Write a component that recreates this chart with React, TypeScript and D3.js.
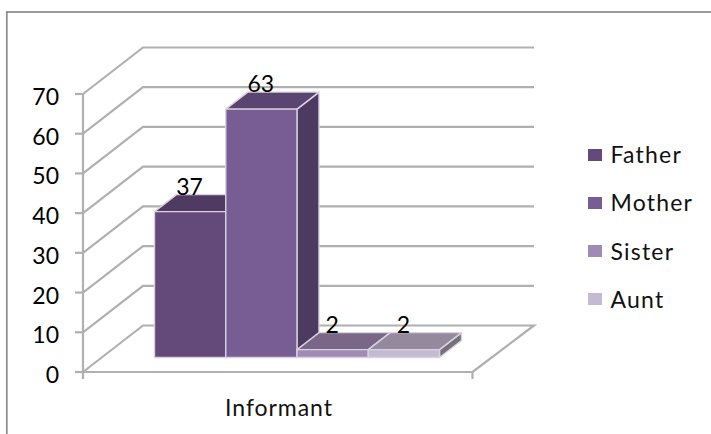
import React from "react";
import * as d3 from "d3";

const categories = ["Father", "Mother", "Sister", "Aunt"];
const values = [37, 63, 2, 2];
const frontColors = ["#634a7b", "#785d95", "#a08bb4", "#c4bad2"];
const topColors = ["#4f3b62", "#5a4570", "#7a6787", "#958a9d"];
const sideColors = ["#4a3860", "#4c3a60", "#6c5a80", "#75707c"];
const yTicks = [0, 10, 20, 30, 40, 50, 60, 70];
const axisLabel = "Informant";

const W = 711, H = 434;
const FONT = "Lato, 'Open Sans', sans-serif";
const FS = 23;

export default function App() {
  const wallDx = 60, wallDy = -46.5;
  const x0 = 83, x1 = 472.5;
  const y = d3.scaleLinear().domain([0, 70]).range([372, 94]);
  const barH = d3.scaleLinear().domain([0, 70]).range([0, 276]);
  const band = d3.scaleBand().domain(categories).range([154.5, 439.5]).paddingInner(0);
  const barBase = 357.5, barDx = 22, barDy = -17;
  const line = d3.line();
  const grid = "#b0b0b0";

  return (
    <svg
      width={W}
      height={H}
      viewBox={`0 0 ${W} ${H}`}
      style={{ position: "absolute", left: 0, top: 0, background: "#fff" }}
    >
      <defs>
        <filter id="soft" x="-5%" y="-5%" width="110%" height="110%">
          <feGaussianBlur stdDeviation="0.5" />
        </filter>
      </defs>
      <rect x={6.8} y={12} width={W + 10} height={H + 10} fill="none" stroke="#8a8a8a" strokeWidth={1.7} />

      <g stroke={grid} strokeWidth={2.2} fill="none" filter="url(#soft)">
        {yTicks.map((t) => (
          <path
            key={t}
            d={line([
              [x0, y(t)],
              [x0 + wallDx, y(t) + wallDy],
              [x1 + wallDx + 1.5, y(t) + wallDy],
              ...(t === 0 ? ([[x1, y(0)]] as [number, number][]) : []),
            ]) as string}
          />
        ))}
        <path d={line([[x0, y(70)], [x0, y(0)]]) as string} />
        <path d={line([[x0, y(0)], [x1, y(0)]]) as string} />
        {yTicks.map((t) => (
          <path key={t} d={line([[x0 - 8, y(t)], [x0, y(t)]]) as string} />
        ))}
        <path d={line([[x0, y(0)], [x0, y(0) + 7]]) as string} />
        <path d={line([[x1, y(0)], [x1, y(0) + 7]]) as string} />
      </g>

      {yTicks.map((t) => (
        <text key={t} x={59} y={y(t) + 11} fontFamily={FONT} fontSize={FS} fill="#000" textAnchor="end">
          {t}
        </text>
      ))}

      {categories.map((c, i) => {
        const bx = band(c) as number;
        const w = band.bandwidth();
        const top = barBase - barH(values[i]);
        const pts = (a: [number, number][]) => line(a) + "Z";
        return (
          <g key={c} stroke="#d9d2e0" strokeWidth={1.4} strokeLinejoin="round">
            <path
              d={pts([[bx + w, top], [bx + w + barDx, top + barDy], [bx + w + barDx, barBase + barDy], [bx + w, barBase]])}
              fill={sideColors[i]}
            />
            <path
              d={pts([[bx, top], [bx + barDx, top + barDy], [bx + w + barDx, top + barDy], [bx + w, top]])}
              fill={topColors[i]}
            />
            <rect x={bx} y={top} width={w} height={barBase - top} fill={frontColors[i]} />
          </g>
        );
      })}

      {categories.map((c, i) => {
        const bx = band(c) as number;
        const w = band.bandwidth();
        const top = barBase - barH(values[i]);
        return (
          <text
            key={c}
            x={bx + w / 2 - 0.5}
            y={top + barDy}
            fontFamily={FONT}
            fontSize={FS}
            fill="#000"
            textAnchor="middle"
          >
            {values[i]}
          </text>
        );
      })}

      <text x={279} y={415.5} fontFamily={FONT} fontSize={FS} letterSpacing={0.95} fill="#111" textAnchor="middle">
        {axisLabel}
      </text>

      {categories.map((c, i) => (
        <g key={c}>
          <rect x={588} y={149 + i * 48} width={14} height={12} fill={frontColors[i]} />
          <text x={610.5} y={163 + i * 48.3} fontFamily={FONT} fontSize={FS} letterSpacing={1.2} fill="#111">
            {c}
          </text>
        </g>
      ))}
    </svg>
  );
}
